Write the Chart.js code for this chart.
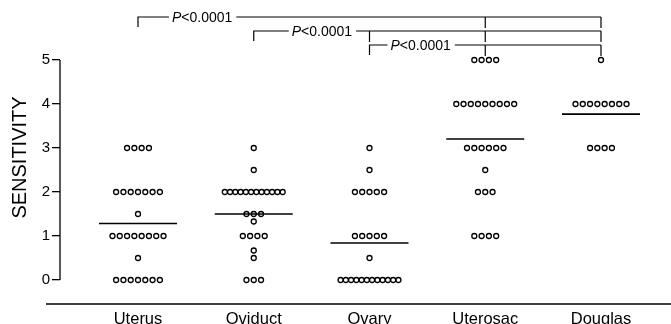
<!DOCTYPE html>
<html>
<head>
<meta charset="utf-8">
<script src="https://cdn.jsdelivr.net/npm/chart.js@4.4.0/dist/chart.umd.min.js"></script>
<style>
  html, body { margin: 0; padding: 0; background: #fff; }
  #wrap { width: 671px; height: 324px; position: relative; }
</style>
</head>
<body>
<div id="wrap"><canvas id="chart"></canvas></div>
<script>
const categories = ["Uterus", "Oviduct", "Ovary", "Uterosac", "Douglas"];

// sensitivity score of each case
const uterus = [3, 3, 3, 3, 2, 2, 2, 2, 2, 2, 2, 1.5, 1, 1, 1, 1, 1, 1, 1, 1, 0.5, 0, 0, 0, 0, 0, 0, 0];
const oviduct = [3, 2.5, 2, 2, 2, 2, 2, 2, 2, 2, 2, 2, 2, 2, 1.5, 1.5, 1.5, 1.33, 1, 1, 1, 1, 0.67, 0.5, 0, 0, 0];
const ovary = [3, 2.5, 2, 2, 2, 2, 2, 1, 1, 1, 1, 1, 0.5, 0, 0, 0, 0, 0, 0, 0, 0, 0, 0, 0, 0];
const uterosac = [5, 5, 5, 5, 4, 4, 4, 4, 4, 4, 4, 4, 4, 3, 3, 3, 3, 3, 3, 2.5, 2, 2, 2, 1, 1, 1, 1];
const douglas = [5, 4, 4, 4, 4, 4, 4, 4, 4, 3, 3, 3, 3];

const yTicks = [0, 1, 2, 3, 4, 5];

// significance brackets: from one site to the sites it is compared with
const comparisons = [
  { from: 0, to: [3, 4], label: "<0.0001" },
  { from: 1, to: [2, 3, 4], label: "<0.0001" },
  { from: 2, to: [3, 4], label: "<0.0001" }
];

const groups = [uterus, oviduct, ovary, uterosac, douglas];
const FONT = "'Liberation Sans', Arial, Helvetica, sans-serif";

// put equal values side by side in a row, centred on the site
const dotStep = 0.063;
const maxSpan = 0.5;
function spread(values, index) {
  const counts = {};
  values.forEach(v => { counts[v] = (counts[v] || 0) + 1; });
  const pts = [];
  Object.keys(counts).forEach(key => {
    const n = counts[key];
    const step = n > 1 ? Math.min(dotStep, maxSpan / (n - 1)) : 0;
    for (let k = 0; k < n; k++) {
      pts.push({ x: index + (k - (n - 1) / 2) * step, y: Number(key) });
    }
  });
  return pts;
}

const mean = arr => arr.reduce((a, b) => a + b, 0) / arr.length;
const meanHalf = 0.337;

const datasets = [];
groups.forEach((g, i) => {
  datasets.push({
    type: "scatter",
    data: spread(g, i),
    pointStyle: "circle",
    pointRadius: 2.5,
    pointBorderWidth: 1.3,
    pointBorderColor: "#000",
    pointBackgroundColor: "rgba(0,0,0,0)"
  });
  const m = mean(g);
  datasets.push({
    type: "line",
    data: [{ x: i - meanHalf, y: m }, { x: i + meanHalf, y: m }],
    borderColor: "#000",
    borderWidth: 1.6,
    pointRadius: 0
  });
});

// scale geometry: px per category / per score unit, and where the first ones sit
const xUnitPx = 115.75;
const firstSitePx = 78;   // from the y axis to the first site
const yUnitPx = 44;
const zeroAbovePx = 24;   // score 0 above the base line

// bracket layout (pixels from the top of the canvas)
const bracketY = [17, 31, 45];
const labelGap = [34, 38, 21];
const tickDown = 10;

const extras = {
  id: "extras",
  afterDatasetsDraw(chart) {
    const { ctx, chartArea, scales } = chart;
    const xs = scales.x, ys = scales.y;
    ctx.save();
    ctx.strokeStyle = "#000";
    ctx.fillStyle = "#000";
    ctx.lineWidth = 1.3;

    // y axis line only from 0 to 5
    ctx.beginPath();
    ctx.moveTo(chartArea.left, ys.getPixelForValue(yTicks[0]));
    ctx.lineTo(chartArea.left, ys.getPixelForValue(yTicks[yTicks.length - 1]));
    ctx.stroke();

    // base line under the plot
    ctx.lineWidth = 1.5;
    ctx.beginPath();
    ctx.moveTo(46, chartArea.bottom);
    ctx.lineTo(chart.width, chartArea.bottom);
    ctx.stroke();

    ctx.lineWidth = 1.2;
    comparisons.forEach((c, k) => {
      const y = bracketY[k];
      const x0 = xs.getPixelForValue(c.from);
      const xEnd = xs.getPixelForValue(Math.max(...c.to));
      const tx = x0 + labelGap[k];
      ctx.font = "italic 14px " + FONT;
      const wP = ctx.measureText("P").width;
      ctx.font = "14px " + FONT;
      const wRest = ctx.measureText(c.label).width;
      const textEnd = tx + wP + wRest;

      ctx.beginPath();
      ctx.moveTo(x0, y + tickDown);
      ctx.lineTo(x0, y);
      ctx.lineTo(tx - 3, y);
      ctx.moveTo(textEnd + 4, y);
      ctx.lineTo(xEnd, y);
      c.to.forEach(t => {
        const xt = xs.getPixelForValue(t);
        ctx.moveTo(xt, y);
        ctx.lineTo(xt, y + tickDown + 1);
      });
      ctx.stroke();

      ctx.textBaseline = "middle";
      ctx.textAlign = "left";
      ctx.font = "italic 14px " + FONT;
      ctx.fillText("P", tx, y + 1);
      ctx.font = "14px " + FONT;
      ctx.fillText(c.label, tx + wP, y + 1);
    });
    ctx.restore();
  }
};

new Chart(document.getElementById("chart"), {
  data: { datasets },
  options: {
    responsive: true,
    maintainAspectRatio: false,
    animation: false,
    devicePixelRatio: 1,
    layout: { padding: 0 },
    plugins: { legend: { display: false }, tooltip: { enabled: false } },
    scales: {
      x: {
        type: "linear",
        bounds: "data",
        min: -0.674,
        max: 4.6,
        afterBuildTicks: s => {
          s.ticks = categories.map((_, i) => ({ value: i }));
          s.min = -firstSitePx / xUnitPx;
          s.max = s.min + s.width / xUnitPx;
        },
        afterFit: s => { s.height = 20; },
        grid: { display: false, drawTicks: false },
        border: { display: false },
        ticks: {
          color: "#000",
          font: { family: FONT, size: 16.5 },
          padding: 6,
          maxRotation: 0,
          autoSkip: false,
          callback: v => categories[v]
        }
      },
      y: {
        type: "linear",
        bounds: "data",
        min: -0.545,
        max: 6.2,
        afterFit: s => { s.width = 60; },
        afterBuildTicks: s => {
          s.ticks = yTicks.map(v => ({ value: v }));
          s.min = -zeroAbovePx / yUnitPx;
          s.max = s.min + s.height / yUnitPx;
        },
        grid: { drawOnChartArea: false, drawTicks: true, tickLength: 8, color: "#000", lineWidth: 1.3 },
        border: { display: false },
        ticks: { color: "#000", font: { family: FONT, size: 15 }, padding: 2 },
        title: {
          display: true,
          text: "SENSITIVITY",
          color: "#000",
          font: { family: FONT, size: 20 },
          padding: { top: 8, bottom: 0 }
        }
      }
    }
  },
  plugins: [extras]
});
</script>
</body>
</html>
